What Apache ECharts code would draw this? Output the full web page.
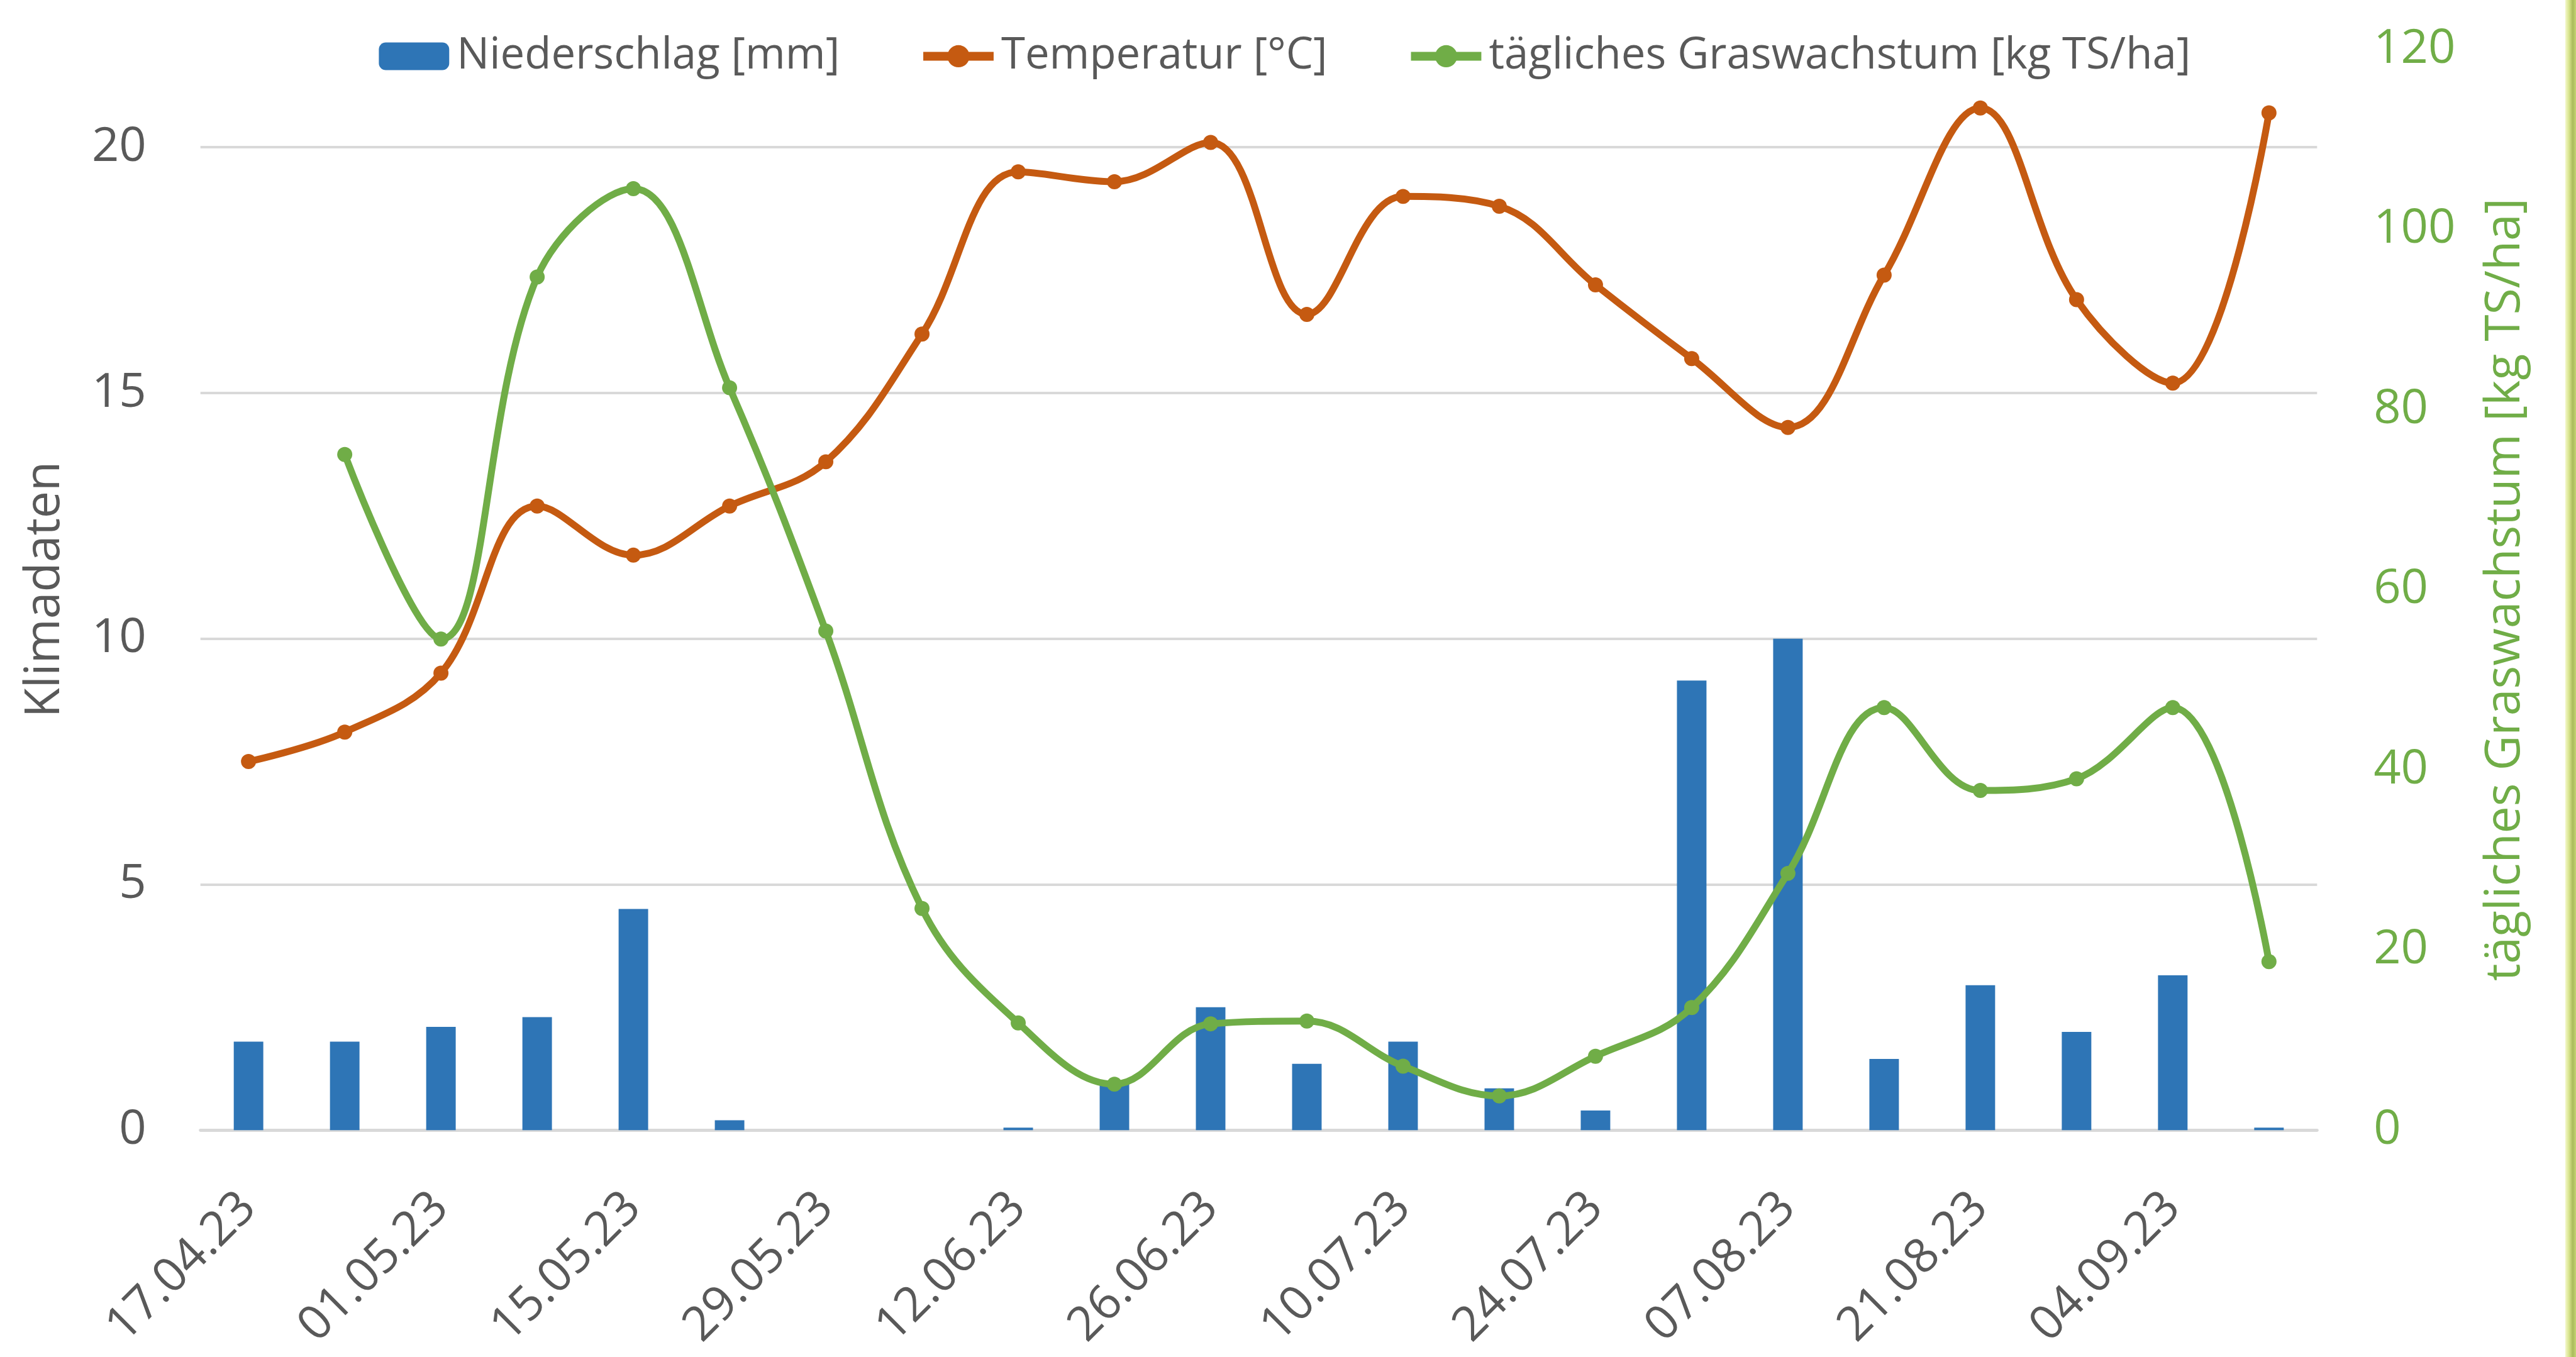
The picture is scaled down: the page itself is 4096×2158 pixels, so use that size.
<!DOCTYPE html>
<html>
<head>
<meta charset="utf-8">
<style>
  html, body { margin: 0; padding: 0; background: #ffffff; }
  #chart { width: 4096px; height: 2158px; }
</style>
<script src="https://cdn.jsdelivr.net/npm/echarts@6/dist/echarts.min.js"></script>
</head>
<body>
<div id="chart"></div>
<script>
// ---- data ----
const dates = ['17.04.23','24.04.23','01.05.23','08.05.23','15.05.23','22.05.23','29.05.23','05.06.23','12.06.23','19.06.23','26.06.23','03.07.23','10.07.23','17.07.23','24.07.23','31.07.23','07.08.23','14.08.23','21.08.23','28.08.23','04.09.23','11.09.23'];
const niederschlag = [1.8, 1.8, 2.1, 2.3, 4.5, 0.2, 0, 0, 0.05, 1.0, 2.5, 1.35, 1.8, 0.85, 0.4, 9.15, 10.0, 1.45, 2.95, 2.0, 3.15, 0.05];
const temperatur = [7.5, 8.1, 9.3, 12.7, 11.7, 12.7, 13.6, 16.2, 19.5, 19.3, 20.1, 16.6, 19.0, 18.8, 17.2, 15.7, 14.3, 17.4, 20.8, 16.9, 15.2, 20.7];
const graswachstum = [null, 75, 54.5, 94.7, 104.5, 82.4, 55.4, 24.6, 11.9, 5.1, 11.8, 12.1, 7.1, 3.8, 8.2, 13.6, 28.5, 46.9, 37.7, 39.0, 46.9, 18.7];
const seriesNames = ['Niederschlag [mm]', 'Temperatur [°C]', 'tägliches Graswachstum [kg TS/ha]'];
const leftAxisName = 'Klimadaten';
const rightAxisName = 'tägliches Graswachstum [kg TS/ha]';

// ---- style ----
const S = 0.999;
const FONT = 'Open Sans';
const GRAY = '#595959';
const BLUE = '#2E75B6';
const ORANGE = '#C55A11';
const GREEN = '#70AD47';
const GRID = '#D9D9D9';
const LW = 11 * S;
const SYM = 24 * S;

const chart = echarts.init(document.getElementById('chart'), null, { renderer: 'canvas' });

const option = {
  backgroundColor: '#ffffff',
  animation: false,
  textStyle: { fontFamily: FONT },
  grid: {
    left: 319 * S,
    right: 4096 - 3688 * S,
    top: 78 * S,
    bottom: 2158 - 1799 * S,
    containLabel: false
  },
  legend: {
    data: seriesNames,
    left: 598 * S,
    top: 50 * S,
    itemWidth: 112 * S,
    itemHeight: 44 * S,
    itemGap: 126 * S,
    lineStyle: { width: 14 * S },
    textStyle: { fontFamily: FONT, fontSize: 69 * S, color: GRAY, padding: [0, 0, 0, 7] }
  },
  xAxis: {
    type: 'category',
    data: dates,
    boundaryGap: true,
    axisLine: { show: true, lineStyle: { color: GRID, width: 5 * S } },
    axisTick: { show: false },
    axisLabel: {
      interval: 1,
      rotate: 45,
      margin: 112 * S,
      fontFamily: FONT,
      fontSize: 76 * S,
      color: GRAY
    },
    splitLine: { show: false }
  },
  yAxis: [
    {
      type: 'value',
      min: 0,
      max: 22,
      interval: 5,
      position: 'left',
      name: leftAxisName,
      nameLocation: 'middle',
      nameGap: 208 * S,
      nameTextStyle: { fontFamily: FONT, fontSize: 77 * S, color: GRAY },
      axisLine: { show: false },
      axisTick: { show: false },
      axisLabel: { margin: 86 * S, fontFamily: FONT, fontSize: 76 * S, color: GRAY, showMaxLabel: false },
      splitLine: { show: true, showMaxLine: false, lineStyle: { color: GRID, width: 4 * S } }
    },
    {
      type: 'value',
      min: 0,
      max: 120,
      interval: 20,
      position: 'right',
      name: rightAxisName,
      nameLocation: 'middle',
      nameGap: 262 * S,
      nameTextStyle: { fontFamily: FONT, fontSize: 77 * S, color: GREEN },
      axisLine: { show: false },
      axisTick: { show: false },
      axisLabel: { margin: 90 * S, fontFamily: FONT, fontSize: 76 * S, color: GREEN },
      splitLine: { show: false }
    }
  ],
  series: [
    {
      name: seriesNames[0],
      type: 'bar',
      yAxisIndex: 0,
      data: niederschlag,
      barWidth: 47 * S,
      itemStyle: { color: BLUE },
      z: 1
    },
    {
      name: seriesNames[1],
      type: 'line',
      yAxisIndex: 0,
      data: temperatur,
      smooth: 0.38,
      symbol: 'circle',
      symbolSize: SYM,
      lineStyle: { color: ORANGE, width: LW },
      itemStyle: { color: ORANGE },
      z: 3
    },
    {
      name: seriesNames[2],
      type: 'line',
      yAxisIndex: 1,
      data: graswachstum,
      smooth: 0.38,
      connectNulls: false,
      symbol: 'circle',
      symbolSize: SYM,
      lineStyle: { color: GREEN, width: LW },
      itemStyle: { color: GREEN },
      z: 4
    }
  ],
  graphic: [
    {
      type: 'rect',
      left: 4083 * S,
      top: 0,
      shape: { width: 4096 - 4083 * S, height: 2158 },
      style: {
        fill: new echarts.graphic.LinearGradient(0, 0, 1, 0, [
          { offset: 0, color: '#F4F8CC' },
          { offset: 0.35, color: '#D8E48C' },
          { offset: 0.7, color: '#A9BA5C' },
          { offset: 1, color: '#C6D574' }
        ])
      },
      silent: true
    }
  ]
};

chart.setOption(option);
</script>
</body>
</html>
